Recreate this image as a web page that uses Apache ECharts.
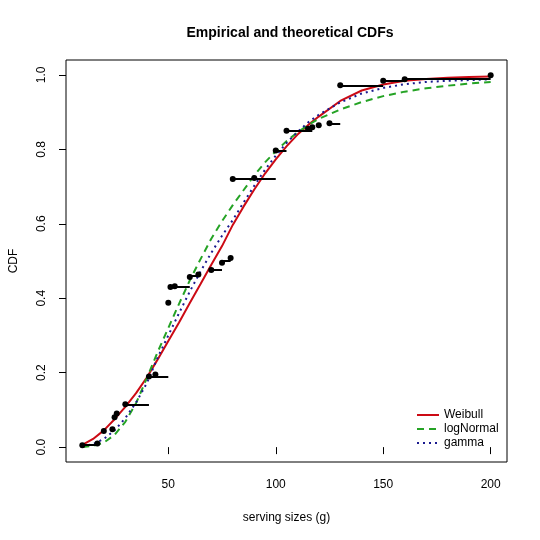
<!DOCTYPE html>
<html>
<head>
<meta charset="utf-8">
<script src="https://cdn.jsdelivr.net/npm/echarts@6/dist/echarts.min.js"></script>
<style>
  html, body { margin: 0; padding: 0; background: #fff; }
  #chart { width: 540px; height: 540px; }
</style>
</head>
<body>
<div id="chart"></div>
<script>
// fitted curves at these sizes
const gridX = [10, 15, 20, 25, 30, 35, 40, 45, 50, 55, 60, 65, 70, 75, 80, 85, 90, 95, 100, 105, 110, 115, 120, 130, 140, 150, 160, 170, 180, 190, 200]
const weibullCdf = [0.006, 0.022, 0.045, 0.075, 0.108, 0.145, 0.187, 0.235, 0.285, 0.335, 0.387, 0.438, 0.49, 0.54, 0.597, 0.646, 0.692, 0.735, 0.773, 0.808, 0.839, 0.865, 0.888, 0.93, 0.958, 0.974, 0.984, 0.989, 0.992, 0.994, 0.996]
const lognormalCdf = [0.0005, 0.003, 0.012, 0.033, 0.068, 0.118, 0.185, 0.255, 0.32, 0.385, 0.448, 0.505, 0.56, 0.607, 0.65, 0.69, 0.73, 0.765, 0.795, 0.822, 0.845, 0.865, 0.882, 0.907, 0.927, 0.943, 0.955, 0.964, 0.971, 0.977, 0.981]
const gammaCdf = [0.002, 0.008, 0.022, 0.045, 0.078, 0.12, 0.172, 0.24, 0.3, 0.36, 0.418, 0.472, 0.522, 0.568, 0.61, 0.657, 0.702, 0.745, 0.783, 0.817, 0.846, 0.872, 0.893, 0.926, 0.95, 0.965, 0.975, 0.981, 0.984, 0.986, 0.988]

// empirical marks
const pointX = [10, 17, 20, 24, 25, 26, 30, 41, 44, 50, 51, 53, 60, 64, 70, 75, 79, 80, 90, 100, 105, 115, 117, 120, 125, 130, 150, 160, 200]
const pointY = [0.005, 0.01, 0.043, 0.048, 0.08, 0.09, 0.115, 0.19, 0.195, 0.388, 0.43, 0.432, 0.457, 0.464, 0.476, 0.495, 0.508, 0.72, 0.723, 0.797, 0.85, 0.855, 0.859, 0.865, 0.87, 0.972, 0.984, 0.988, 0.999]
const segStart = [10, 30, 41, 51, 60, 70, 75, 80, 100, 105, 125, 130, 150, 160]
const segEnd = [17, 41, 50, 60, 64, 75, 79, 100, 105, 117, 130, 150, 160, 200]
const segY = [0.007, 0.115, 0.19, 0.43, 0.46, 0.476, 0.5, 0.72, 0.797, 0.85, 0.87, 0.972, 0.985, 0.99]

const xTicks = [50, 100, 150, 200]
const yTicks = [0, 0.2, 0.4, 0.6, 0.8, 1]

const font = '"Liberation Sans", Arial, sans-serif'
const chart = echarts.init(document.getElementById('chart'))

const curve = (name, ys, color, type) => ({
  name, type: 'line',
  data: gridX.map((x, i) => [x, ys[i]]),
  symbol: 'none', smooth: false,
  lineStyle: { color, width: 2, type },
  itemStyle: { color },
  z: 3
})

chart.setOption({
  animation: false,
  title: {
    text: 'Empirical and theoretical CDFs',
    left: 285, top: 21, textAlign: 'center',
    textStyle: { fontFamily: font, fontSize: 14, fontWeight: 'bold', color: '#000' }
  },
  grid: { left: 63, right: 33, top: 60, bottom: 78, show: true, borderColor: '#000', borderWidth: 1, backgroundColor: 'transparent' },
  legend: {
    data: ['Weibull', 'logNormal', 'gamma'],
    orient: 'vertical', left: 411, top: 404,
    itemWidth: 22, itemHeight: 12, itemGap: 2,
    itemStyle: { opacity: 0 },
    textStyle: { fontFamily: font, fontSize: 12, color: '#000' }
  },
  xAxis: {
    type: 'value', min: 2.4, max: 207.6,
    name: 'serving sizes (g)', nameLocation: 'middle', nameGap: 50,
    nameTextStyle: { fontFamily: font, fontSize: 12, color: '#000' },
    axisLine: { show: false },
    axisTick: { show: true, length: 7, customValues: xTicks, lineStyle: { color: '#000' } },
    axisLabel: { customValues: xTicks, margin: 17, fontFamily: font, fontSize: 12, color: '#000' },
    splitLine: { show: false }
  },
  yAxis: {
    type: 'value', min: -0.04, max: 1.04,
    name: 'CDF', nameLocation: 'middle', nameGap: 46, nameRotate: 90,
    nameTextStyle: { fontFamily: font, fontSize: 12, color: '#000' },
    axisLine: { show: false },
    axisTick: { show: true, length: 7, customValues: yTicks, lineStyle: { color: '#000' } },
    axisLabel: { customValues: yTicks, rotate: 90, margin: 18, fontFamily: font, fontSize: 12, color: '#000',
      formatter: v => v.toFixed(1) },
    splitLine: { show: false }
  },
  series: [
    {
      name: 'intervals', type: 'lines', coordinateSystem: 'cartesian2d', silent: true,
      data: segY.map((y, i) => ({ coords: [[segStart[i], y], [segEnd[i], y]] })),
      lineStyle: { color: '#000', width: 2, opacity: 1 }, z: 4
    },
    {
      name: 'empirical', type: 'scatter', silent: true,
      data: pointX.map((x, i) => [x, pointY[i]]),
      symbolSize: 6, itemStyle: { color: '#000', opacity: 1 }, z: 5
    },
    curve('Weibull', weibullCdf, '#cc0a14', 'solid'),
    curve('logNormal', lognormalCdf, '#25a325', [7, 5]),
    curve('gamma', gammaCdf, '#1a1a8f', [2, 4])
  ]
})
</script>
</body>
</html>
